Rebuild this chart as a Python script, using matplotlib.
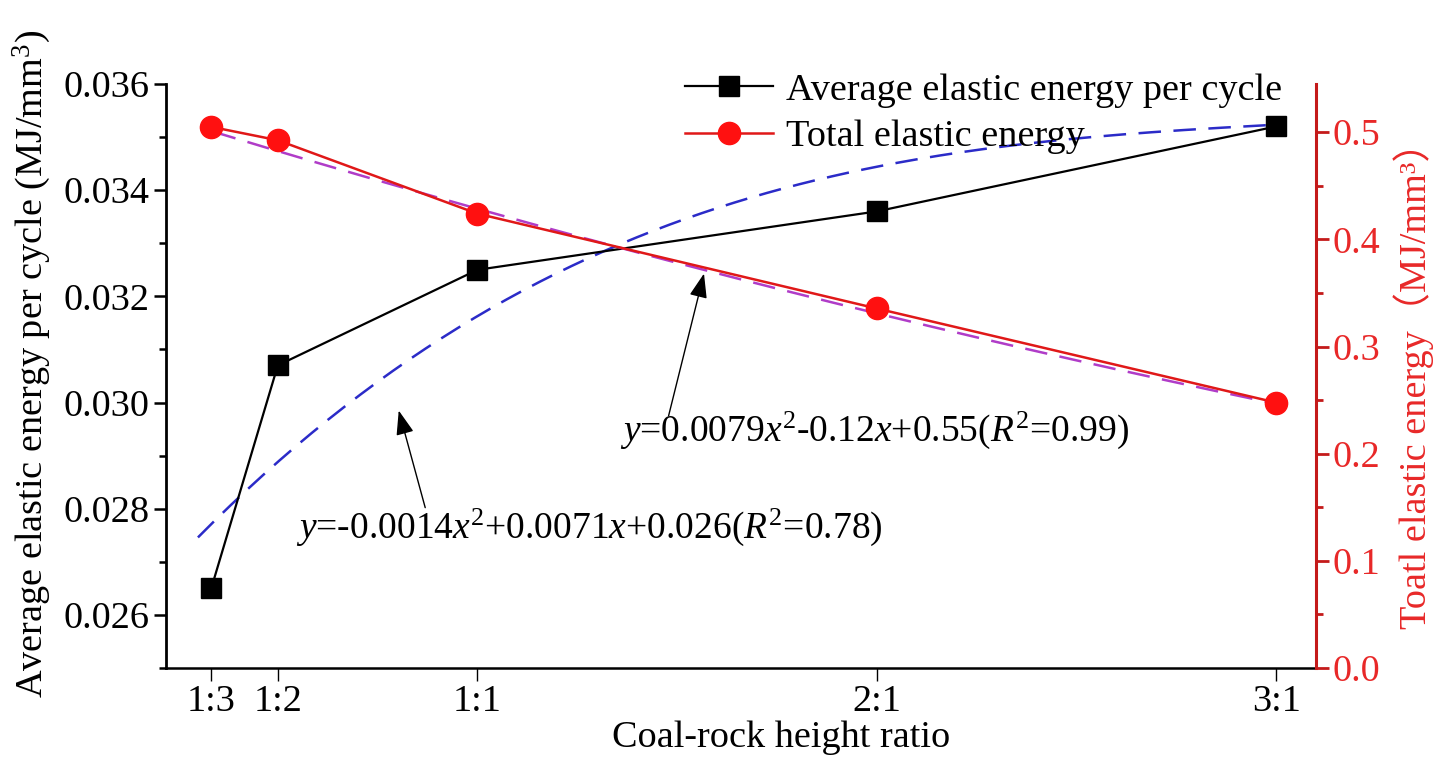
import numpy as np
import matplotlib
matplotlib.use("Agg")
import matplotlib.pyplot as plt
from matplotlib.ticker import MultipleLocator, FormatStrFormatter

plt.rcParams['font.family'] = ['Liberation Serif', 'DejaVu Serif']
plt.rcParams['mathtext.fontset'] = 'custom'
plt.rcParams['mathtext.rm'] = 'Liberation Serif'
plt.rcParams['mathtext.it'] = 'Liberation Serif:italic'

# ---- data ----
categories = ["1:3", "1:2", "1:1", "2:1", "3:1"]
ratio_x = [1/3, 1/2, 1.0, 2.0, 3.0]
avg_energy = [0.0265, 0.0307, 0.0325, 0.0336, 0.0352]
total_energy = [0.505, 0.4925, 0.424, 0.3355, 0.2477]

# points
blue_fit_x = [0.30, 0.80, 1.34, 1.88, 2.27, 2.70, 3.0]
blue_fit_y = [0.02745, 0.03069, 0.03289, 0.03426, 0.03478, 0.03510, 0.03523]
mag_fit_x = [0.34, 0.49, 1.34, 1.815, 2.641, 3.0]
mag_fit_y = [0.499, 0.486, 0.3916, 0.3477, 0.2794, 0.2440]

eq_avg = r"$\mathit{y}$=-0.0014$\mathit{x}^2$+0.0071$\mathit{x}$+0.026($\mathit{R}^2$=0.78)"
eq_tot = r"$\mathit{y}$=0.0079$\mathit{x}^2$-0.12$\mathit{x}$+0.55($\mathit{R}^2$=0.99)"

W, H = 1444, 758
fig = plt.figure(figsize=(W/100, H/100), dpi=100)
ax = fig.add_axes([166/W, 1-668/H, (1316-166)/W, (668-84)/H])
ax2 = ax.twinx()

FS = 27.5
red_axis = "#C41A1A"
red_text = "#E82828"

# fits
bc = np.polyfit(blue_fit_x, blue_fit_y, 3)
xb = np.linspace(blue_fit_x[0], blue_fit_x[-1], 200)
ax.plot(xb, np.polyval(bc, xb), color="#2B2BC8", lw=1.8, dashes=(9, 5), zorder=2)
mc = np.polyfit(mag_fit_x, mag_fit_y, 2)
xm = np.linspace(mag_fit_x[0], mag_fit_x[-1], 200)
ax2.plot(xm, np.polyval(mc, xm), color="#B03CC8", lw=1.8, dashes=(9, 5), zorder=2)

l1, = ax.plot(ratio_x, avg_energy, color="black", lw=1.6, marker="s", ms=14,
              markerfacecolor="black", markeredgecolor="black", zorder=3,
              label="Average elastic energy per cycle")
l2, = ax2.plot(ratio_x, total_energy, color="#E01818", lw=1.8, marker="o", ms=16,
               markerfacecolor="#FF1010", markeredgecolor="#FF1010", zorder=3,
               label="Total elastic energy")

ax.set_xlim(0.22, 3.1)
ax.set_ylim(0.025, 0.036)
ax2.set_ylim(0.0, 0.545)

ax.set_xticks(ratio_x)
ax.set_xticklabels(categories)
ax.yaxis.set_major_locator(MultipleLocator(0.002))
ax.yaxis.set_minor_locator(MultipleLocator(0.001))
ax.yaxis.set_major_formatter(FormatStrFormatter('%.3f'))
ax2.yaxis.set_major_locator(MultipleLocator(0.1))
ax2.yaxis.set_minor_locator(MultipleLocator(0.05))
ax2.yaxis.set_major_formatter(FormatStrFormatter('%.1f'))

for s in ["top", "right"]:
    ax.spines[s].set_visible(False)
for s in ["top", "left", "bottom"]:
    ax2.spines[s].set_visible(False)
ax.spines["left"].set_linewidth(2)
ax.spines["bottom"].set_linewidth(1.8)
ax2.spines["right"].set_linewidth(2.2)
ax2.spines["right"].set_color(red_axis)

ax.tick_params(axis="y", which="major", direction="out", length=9, width=1.8, labelsize=FS, pad=3)
ax.tick_params(axis="y", which="minor", direction="out", length=5, width=1.8)
ax.tick_params(axis="x", which="major", direction="out", length=9, width=1.0, labelsize=FS, pad=3)
ax2.tick_params(axis="y", which="major", direction="out", length=9, width=2, color=red_axis,
                labelcolor=red_text, labelsize=FS, pad=3)
ax2.tick_params(axis="y", which="minor", direction="out", length=5, width=2, color=red_axis)

ax.set_xlabel("Coal-rock height ratio", fontsize=FS, labelpad=0)
ax.xaxis.set_label_coords((781-166)/1150, -0.09)
ax.set_ylabel(r"Average elastic energy per cycle (MJ/mm$^3$)", fontsize=FS, labelpad=2)
ax.yaxis.set_label_coords(-0.098, 0.52)
ax2.set_ylabel("Toatl elastic energy（MJ/mm³）", fontsize=FS, color=red_text,
               family=['Liberation Serif', 'Noto Sans CJK SC'])
ax2.yaxis.set_label_coords(1.067, 0.50)

# annotations (positions in left-axis data coords)
arrow_kw = dict(arrowstyle="-|>,head_length=1.5,head_width=0.55", color="black", lw=1.0)
ax.annotate("", xy=(1.569, 0.03248), xytext=(1.477, 0.0297), arrowprops=arrow_kw, zorder=5)
ax.text(1.357, 0.02947, eq_tot, fontsize=27, va="center", ha="left")
ax.annotate("", xy=(0.801, 0.0299), xytext=(0.871, 0.02797), arrowprops=arrow_kw, zorder=5)
ax.text(0.5457, 0.02765, eq_avg, fontsize=27, va="center", ha="left")

leg = fig.legend(handles=[l1, l2], loc="upper left", bbox_to_anchor=(685/W, 1-73/H),
                 frameon=False, fontsize=FS, handlelength=2.3, handletextpad=0.35,
                 labelspacing=0.3, borderpad=0, borderaxespad=0)

fig.savefig("out.png", dpi=100)
